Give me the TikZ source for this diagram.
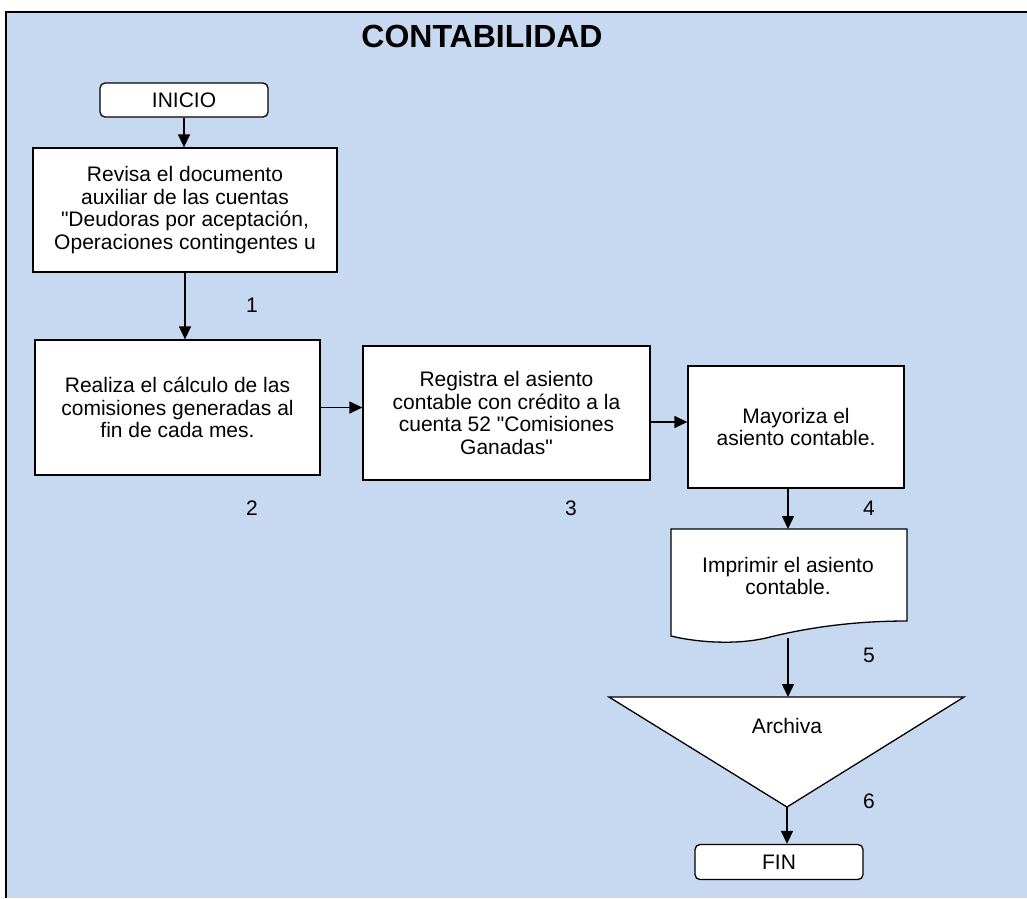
\documentclass[tikz,border=0pt]{standalone}
\usepackage{fontspec}
\setmainfont{Liberation Sans}
\newfontfamily\plainfont{Liberation Sans}
\usetikzlibrary{arrows.meta,calc}
\definecolor{bgblue}{HTML}{C6D9F1}
\newcommand{\dq}{{\plainfont"}}
\begin{document}
\begin{tikzpicture}[x=1pt,y=-1pt,
  box/.style={draw=black,fill=white,line width=1.3pt,align=center,inner sep=0pt,font=\fontsize{21}{22.5}\selectfont},
  term/.style={box,rounded corners=5pt},
  arr/.style={line width=1.4pt,-{Triangle[length=13pt,width=12pt]}},
  num/.style={font=\fontsize{21}{22}\selectfont},
  txt/.style={align=center,inner sep=0pt,font=\fontsize{21}{22.5}\selectfont}]
\useasboundingbox (0,0) rectangle (1027,898);
\fill[white] (0,0) rectangle (1027,898);
\fill[bgblue] (6,12) rectangle (1027,898);
\draw[line width=2.2pt] (6,898) -- (6,12) -- (1027,12);

\node[txt, font=\bfseries\fontsize{32}{34}\selectfont] (title) at (482,36) {CONTABILIDAD};

\node[term, minimum width=168pt, minimum height=34pt] (inicio) at (184,100) {INICIO};
\node[box, minimum width=304pt, minimum height=124pt] (b1) at (185,210)
  {Revisa el documento\\ auxiliar de las cuentas\\ \dq Deudoras por aceptación,\\ Operaciones contingentes u};
\node[box, minimum width=285pt, minimum height=135pt] (b2) at (177.5,407.5)
  {Realiza el cálculo de las\\ comisiones generadas al\\ fin de cada mes.};
\node[box, minimum width=287pt, minimum height=134pt] (b3) at (506.5,413)
  {Registra el asiento\\ contable con crédito a la\\ cuenta 52 \dq Comisiones\\ Ganadas\dq};
\node[box, minimum width=216pt, minimum height=122pt] (b4) at (796,427)
  {Mayoriza el\\ asiento contable.};

% document shape
\coordinate (doctop) at (788,529);
\coordinate (docbot) at (788,638);
\draw[line width=1.3pt, fill=white] (671,529) -- (907,529) -- (907,621)
  .. controls (860,621) and (815,626) .. (770,637)
  .. controls (740,645) and (700,643) .. (671,636) -- cycle;
\node[txt] (doc) at (788,576) {Imprimir el asiento\\ contable.};

% triangle (archive)
\coordinate (tritop) at (788,697);
\coordinate (tribot) at (787,807);
\draw[line width=1.3pt, fill=white] (609,697) -- (964,697) -- (tribot) -- cycle;
\node[txt] (arch) at (787,726) {Archiva};

\node[term, minimum width=168pt, minimum height=35pt] (fin) at (779,862) {FIN};

% numbers
\node[num] (n1) at (252,305) {1};
\node[num] (n2) at (252,508) {2};
\node[num] (n3) at (571,508) {3};
\node[num] (n4) at (869,508) {4};
\node[num] (n5) at (869,655) {5};
\node[num] (n6) at (869,801) {6};

% connectors
\draw[arr] (inicio.south) -- (inicio.south |- b1.north);
\draw[arr] (b1.south) -- (b1.south |- b2.north);
\draw[arr] (b2.east) -- (b2.east -| b3.west);
\draw[arr] ([yshift=-9pt]b3.east) -- ([yshift=-9pt]b3.east -| b4.west);
\draw[arr] (b4.south -| doctop) -- (doctop);
\draw[arr] (docbot) -- (tritop);
\draw[arr] (tribot) -- (tribot |- fin.north);
\end{tikzpicture}
\end{document}
